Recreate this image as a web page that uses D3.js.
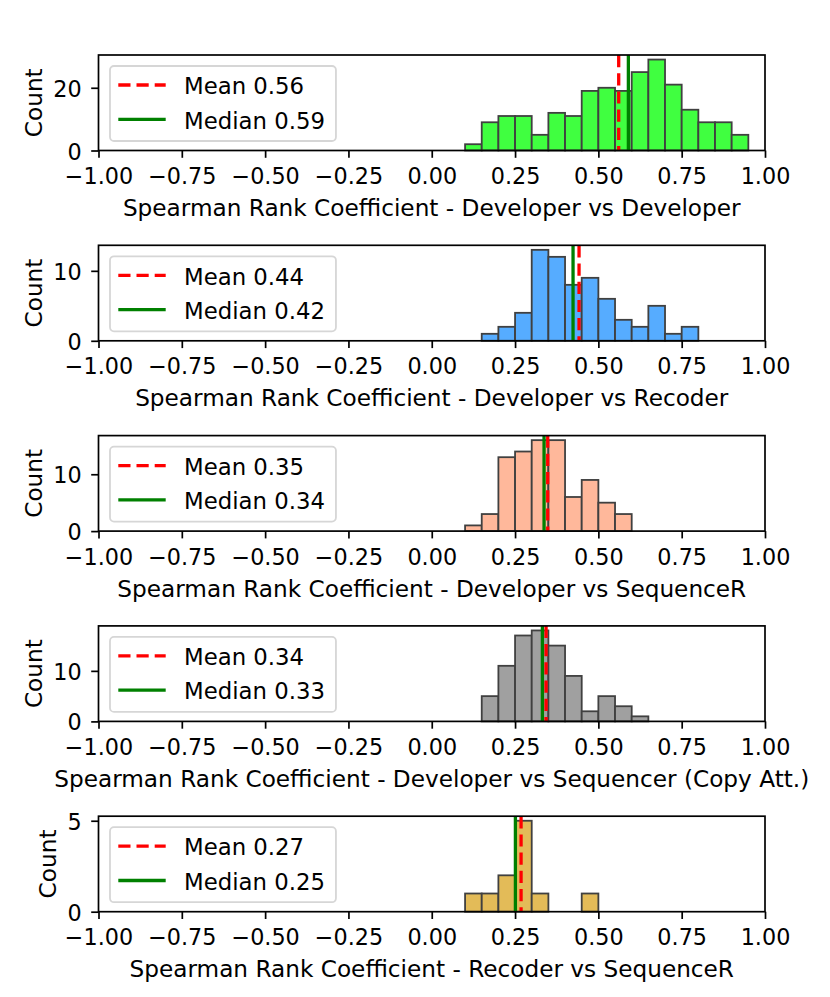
<!DOCTYPE html>
<html>
<head>
<meta charset="utf-8">
<script src="https://cdn.jsdelivr.net/npm/d3@7"></script>
<style>
  body { margin: 0; background: #fff; }
  text { font-family: "DejaVu Sans", sans-serif; fill: #000; }
</style>
</head>
<body>
<svg id="chart"></svg>
<script>
// histogram data, bins of 0.05 starting at binStart
const binWidth = 0.05;
const titles = [
  "Spearman Rank Coefficient - Developer vs Developer",
  "Spearman Rank Coefficient - Developer vs Recoder",
  "Spearman Rank Coefficient - Developer vs SequenceR",
  "Spearman Rank Coefficient - Developer vs Sequencer (Copy Att.)",
  "Spearman Rank Coefficient - Recoder vs SequenceR"
];
const binStarts = [0.10, 0.15, 0.10, 0.15, 0.10];
const devDevCounts = [2, 9, 11, 11, 5, 12, 11, 19, 20, 19, 25, 29, 21, 13, 9, 9, 5];
const devRecCounts = [1, 2, 4, 13, 12, 8, 9, 6, 3, 2, 5, 1, 2];
const devSeqCounts = [1, 3, 13, 14, 16, 16, 6, 9, 5, 3];
const devCopyCounts = [5, 11, 17, 18, 15, 9, 2, 5, 3, 1];
const recSeqCounts = [1, 1, 2, 5, 1, 0, 0, 1];
const means = [0.561, 0.442, 0.348, 0.343, 0.268];
const medians = [0.590, 0.424, 0.337, 0.332, 0.251];
const fills = ["#40ff40", "#56acff", "#ffb89b", "#a0a0a0", "#e3bb58"];
const xTicks = [-1, -0.75, -0.5, -0.25, 0, 0.25, 0.5, 0.75, 1];
const yTicks = [[0, 20], [0, 10], [0, 10], [0, 10], [0, 5]];

const allCounts = [devDevCounts, devRecCounts, devSeqCounts, devCopyCounts, recSeqCounts];

const W = 830, H = 997;
const left = 98.5, right = 765;
const panelTop = 55, panelStep = 190.3, panelH = 95.5;
const tickFont = 22.3, labelFont = 23.2, legendFont = 22.8;

const svg = d3.select("#chart").attr("width", W).attr("height", H);

const x = d3.scaleLinear().domain([-1, 1]).range([left, right]);
const fmt = d => d3.format(".2f")(d).replace("-", "\u2212");

allCounts.forEach((counts, p) => {
  const top = panelTop + p * panelStep;
  const bottom = top + panelH;
  const y = d3.scaleLinear().domain([0, d3.max(counts) * 1.05]).range([bottom, top]);
  const g = svg.append("g");

  // bars
  const bins = counts.map((c, i) => ({ x0: binStarts[p] + i * binWidth, count: c }))
    .filter(d => d.count > 0);
  g.selectAll("rect.bar")
    .data(bins)
    .enter()
    .append("rect")
    .attr("class", "bar")
    .attr("x", d => x(d.x0))
    .attr("width", d => x(d.x0 + binWidth) - x(d.x0))
    .attr("y", d => y(d.count))
    .attr("height", d => y(0) - y(d.count))
    .attr("fill", fills[p])
    .attr("stroke", "#404040")
    .attr("stroke-width", 1.8);

  // mean and median lines
  g.append("line")
    .attr("x1", x(means[p])).attr("x2", x(means[p]))
    .attr("y1", top).attr("y2", bottom)
    .attr("stroke", "red").attr("stroke-width", 3.3)
    .attr("stroke-dasharray", "12.2,6");
  g.append("line")
    .attr("x1", x(medians[p])).attr("x2", x(medians[p]))
    .attr("y1", top).attr("y2", bottom)
    .attr("stroke", "green").attr("stroke-width", 3.3);

  // frame
  g.append("rect")
    .attr("x", left).attr("y", top)
    .attr("width", right - left).attr("height", panelH)
    .attr("fill", "none").attr("stroke", "#000").attr("stroke-width", 1.7);

  // x axis
  const xa = g.append("g")
    .attr("transform", `translate(0,${bottom})`)
    .call(d3.axisBottom(x).tickValues(xTicks).tickFormat(fmt).tickSize(7.3));
  xa.select(".domain").remove();
  xa.selectAll(".tick line").attr("stroke", "#000").attr("stroke-width", 1.7);
  xa.selectAll(".tick text")
    .attr("y", 33.6).attr("dy", 0)
    .style("font-size", tickFont + "px")
    .style("font-family", "DejaVu Sans");

  // y axis
  const ya = g.append("g")
    .attr("transform", `translate(${left},0)`)
    .call(d3.axisLeft(y).tickValues(yTicks[p]).tickFormat(d3.format("d")).tickSize(7.3));
  ya.select(".domain").remove();
  ya.selectAll(".tick line").attr("stroke", "#000").attr("stroke-width", 1.7);
  ya.selectAll(".tick text")
    .attr("x", -16.8).attr("dy", 8.5)
    .style("font-size", tickFont + "px")
    .style("font-family", "DejaVu Sans");

  // axis labels
  g.append("text")
    .attr("x", (left + right) / 2)
    .attr("y", bottom + 65.5)
    .attr("text-anchor", "middle")
    .style("font-size", labelFont + "px")
    .text(titles[p]);

  const yb = ya.node().getBBox();
  g.append("text")
    .attr("transform", `translate(${left + yb.x - 11.5},${(top + bottom) / 2}) rotate(-90)`)
    .attr("text-anchor", "middle")
    .style("font-size", labelFont + "px")
    .text("Count");

  // legend
  const lg = g.append("g").attr("transform", `translate(${left + 11.5},${top + 11})`);
  const box = lg.append("rect")
    .attr("x", 0).attr("y", 0)
    .attr("height", 75).attr("rx", 4)
    .attr("fill", "#fff").attr("fill-opacity", 0.8)
    .attr("stroke", "#d6d6d6").attr("stroke-width", 1.8);
  const items = [
    { label: "Mean " + means[p].toFixed(2), color: "red", dash: "12.2,6" },
    { label: "Median " + medians[p].toFixed(2), color: "green", dash: null }
  ];
  let maxW = 0;
  items.forEach((it, i) => {
    const ly = 19 + i * 34.3;
    lg.append("line")
      .attr("x1", 8.3).attr("x2", 55.7)
      .attr("y1", ly).attr("y2", ly)
      .attr("stroke", it.color).attr("stroke-width", 3.3)
      .attr("stroke-dasharray", it.dash);
    const t = lg.append("text")
      .attr("x", 74).attr("y", ly + 9.3)
      .style("font-size", legendFont + "px")
      .text(it.label);
    maxW = Math.max(maxW, t.node().getComputedTextLength());
  });
  box.attr("width", 74 + maxW + 11);
});
</script>
</body>
</html>
